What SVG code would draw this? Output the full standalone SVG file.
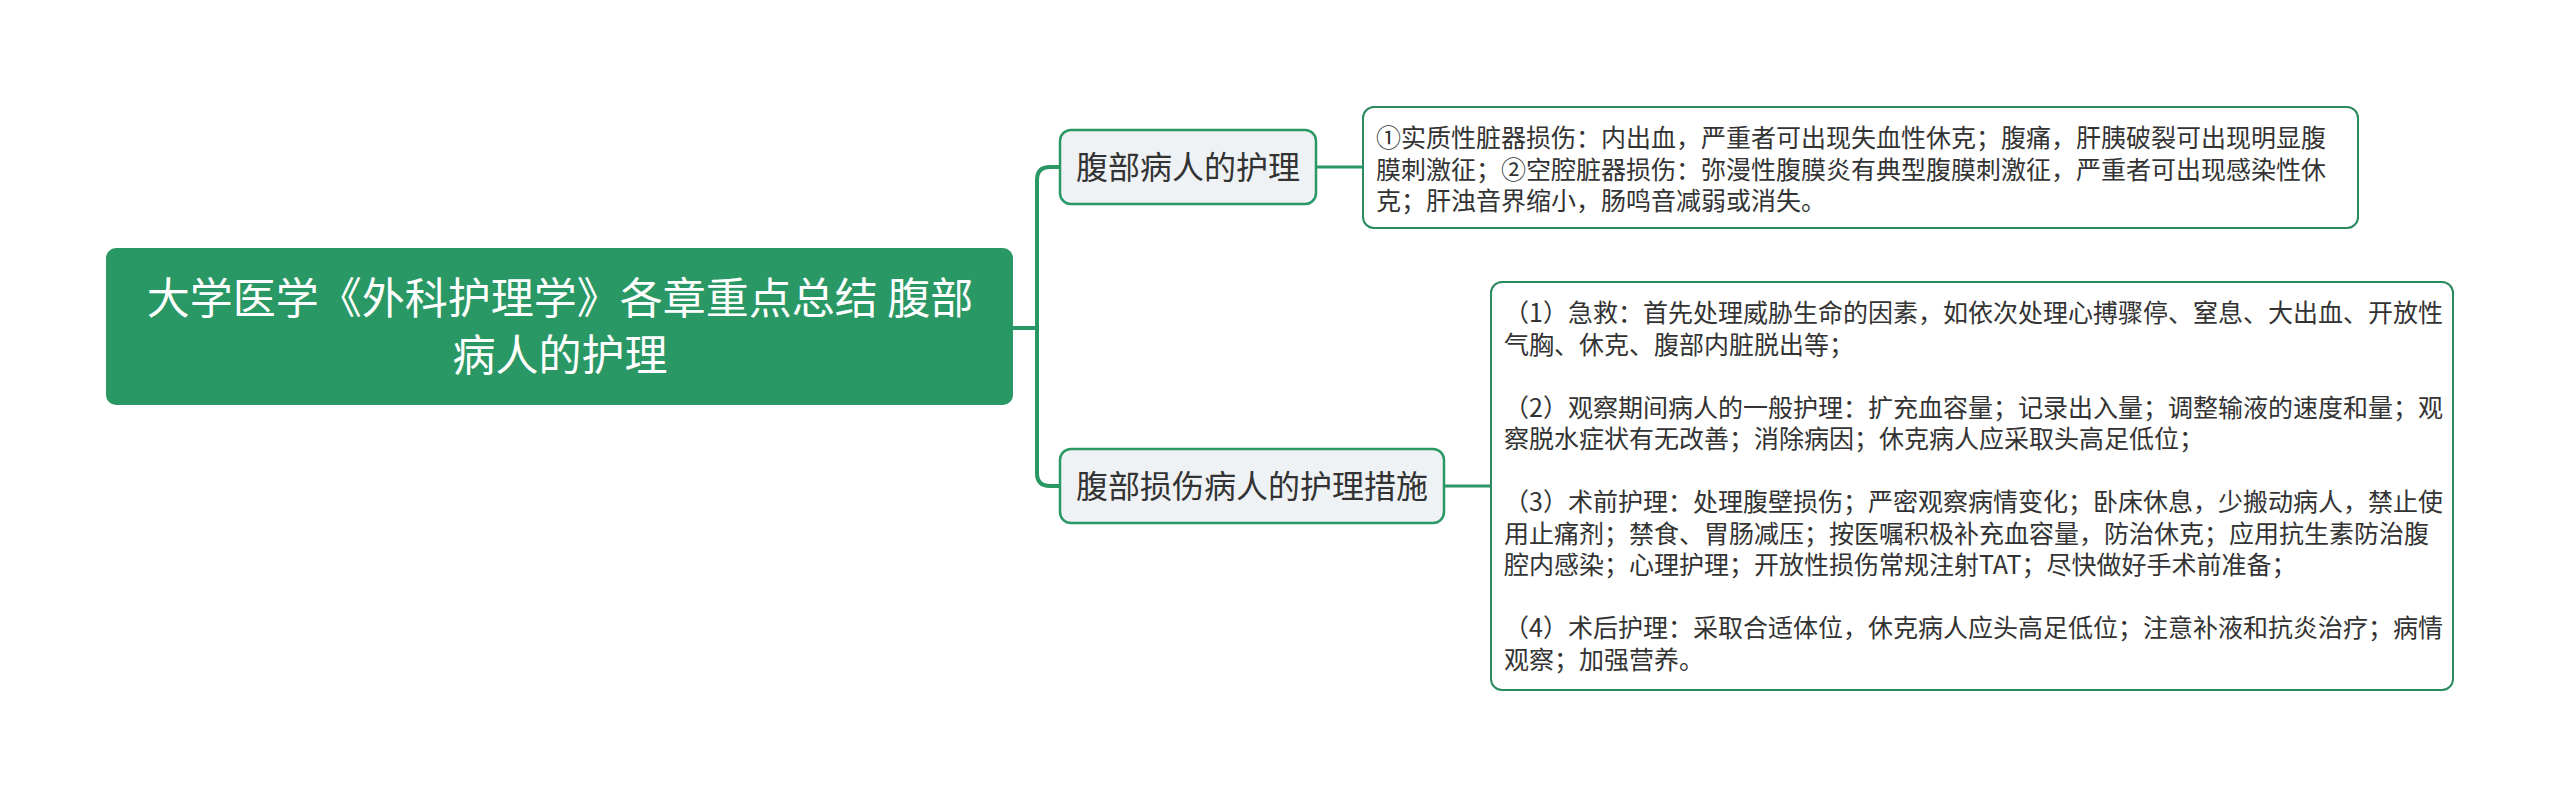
<svg xmlns="http://www.w3.org/2000/svg" width="2560" height="797" viewBox="0 0 2560 797">
<style>
.root{fill:#2a9865;}
.rt{fill:#ffffff;font-family:"Noto Sans CJK SC","Noto Sans",sans-serif;font-size:43px;text-anchor:middle;}
.sub{fill:#eff2f5;stroke:#2a9865;stroke-width:2.5;}
.st{fill:#333333;font-family:"Noto Sans CJK SC","Noto Sans",sans-serif;font-size:32px;text-anchor:middle;}
.leaf{fill:#ffffff;stroke:#2a8a5e;stroke-width:2;}
.lt{fill:#333333;font-family:"Noto Sans CJK SC","Noto Sans",sans-serif;font-size:25px;}
.c{fill:none;stroke:#2a9865;stroke-width:4;}
.c2{fill:none;stroke:#2a9865;stroke-width:3;}
</style>
<rect width="2560" height="797" fill="#ffffff"/>
<g id="connectors">
<path class="c" d="M1013,328 H1037"/>
<path class="c" d="M1060,167 H1050 Q1037,167 1037,180 V473 Q1037,486 1050,486 H1060"/>
<path class="c2" d="M1316,167 H1363"/>
<path class="c2" d="M1444,486 H1491"/>
</g>
<g id="root">
<rect class="root" x="106" y="248" width="907" height="157" rx="10"/>
<text class="rt" x="560" y="314">大学医学《外科护理学》各章重点总结 腹部</text>
<text class="rt" x="560" y="371">病人的护理</text>
</g>
<g id="node1">
<rect class="sub" x="1060" y="130" width="256" height="74" rx="11"/>
<text class="st" x="1188" y="179">腹部病人的护理</text>
</g>
<g id="node2">
<rect class="sub" x="1060" y="449" width="384" height="74" rx="11"/>
<text class="st" x="1252" y="498">腹部损伤病人的护理措施</text>
</g>
<g id="leaf1">
<rect class="leaf" x="1363" y="107" width="995" height="121" rx="11"/>
<text class="lt" x="1376" y="147">①实质性脏器损伤：内出血，严重者可出现失血性休克；腹痛，肝胰破裂可出现明显腹</text>
<text class="lt" x="1376" y="178.5">膜刺激征；②空腔脏器损伤：弥漫性腹膜炎有典型腹膜刺激征，严重者可出现感染性休</text>
<text class="lt" x="1376" y="210">克；肝浊音界缩小，肠鸣音减弱或消失。</text>
</g>
<g id="leaf2">
<rect class="leaf" x="1491" y="282" width="962" height="408" rx="11"/>
<text class="lt" x="1504" y="322">（1）急救：首先处理威胁生命的因素，如依次处理心搏骤停、窒息、大出血、开放性</text>
<text class="lt" x="1504" y="353.5">气胸、休克、腹部内脏脱出等；</text>
<text class="lt" x="1504" y="416.5">（2）观察期间病人的一般护理：扩充血容量；记录出入量；调整输液的速度和量；观</text>
<text class="lt" x="1504" y="448">察脱水症状有无改善；消除病因；休克病人应采取头高足低位；</text>
<text class="lt" x="1504" y="511">（3）术前护理：处理腹壁损伤；严密观察病情变化；卧床休息，少搬动病人，禁止使</text>
<text class="lt" x="1504" y="542.5">用止痛剂；禁食、胃肠减压；按医嘱积极补充血容量，防治休克；应用抗生素防治腹</text>
<text class="lt" x="1504" y="574">腔内感染；心理护理；开放性损伤常规注射TAT；尽快做好手术前准备；</text>
<text class="lt" x="1504" y="637">（4）术后护理：采取合适体位，休克病人应头高足低位；注意补液和抗炎治疗；病情</text>
<text class="lt" x="1504" y="668.5">观察；加强营养。</text>
</g>
</svg>
